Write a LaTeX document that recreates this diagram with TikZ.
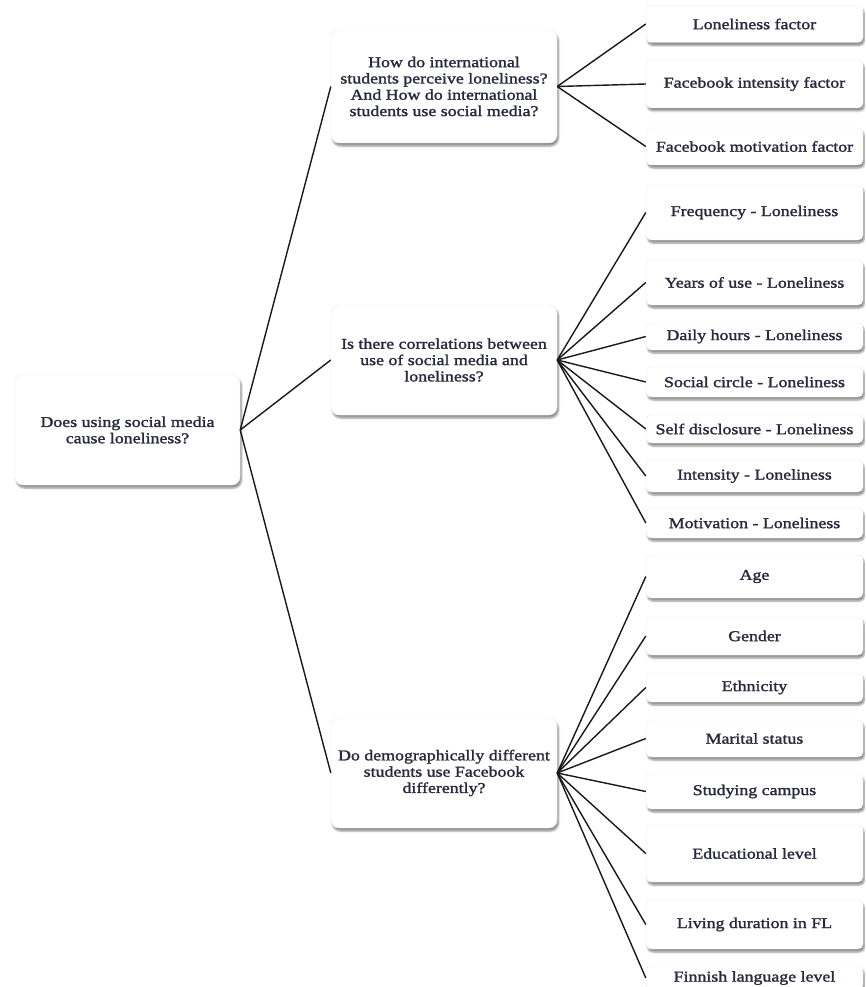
\documentclass[tikz,border=0pt]{standalone}
\usepackage{fontspec}
\setmainfont[FakeStretch=1.19,FakeBold=1.6]{Liberation Serif}
\usetikzlibrary{shadows.blur}
\definecolor{txt}{RGB}{40,40,62}
\begin{document}
\begin{tikzpicture}[x=1pt,y=-1pt,
  base/.style={draw=black!8, fill=white, align=center, text=txt, inner sep=0pt,
    font=\fontsize{15}{16.3}\selectfont,
    blur shadow={shadow xshift=1.5pt, shadow yshift=-3pt, shadow blur steps=5, shadow opacity=45}},
  qbox/.style={base, rounded corners=8pt, minimum width=226pt, minimum height=110pt},
  rbox/.style={base, rounded corners=5pt, minimum width=217pt},
  link/.style={draw=black!90, line width=1.4pt}]
\useasboundingbox (0,0) rectangle (865,987);
\begin{scope}
\clip (0,0) rectangle (865,987);
% root
\node[qbox, minimum width=225pt] (root) at (127.5,430) {Does using social media\\cause loneliness?};
% middle
\node[qbox, minimum height=113pt] (q1) at (444,86.5) {How do international\\students perceive loneliness?\\And How do international\\students use social media?};
\node[qbox] (q2) at (444,360) {Is there correlations between\\use of social media and\\loneliness?};
\node[qbox] (q3) at (444,773) {Do demographically different\\students use Facebook\\differently?};
% right column
\node[rbox, minimum height=37pt] (a1) at (754.5,24) {Loneliness factor};
\node[rbox, minimum height=48pt] (a2) at (754.5,84) {Facebook intensity factor};
\node[rbox, minimum height=37pt] (a3) at (754.5,146.5) {Facebook motivation factor};
\node[rbox, minimum height=55pt] (b1) at (754.5,212.5) {Frequency - Loneliness};
\node[rbox, minimum height=45pt] (b2) at (754.5,282.5) {Years of use - Loneliness};
\node[rbox, minimum height=27pt] (b3) at (754.5,336.5) {Daily hours - Loneliness};
\node[rbox, minimum height=30pt] (b4) at (754.5,382) {Social circle - Loneliness};
\node[rbox, minimum height=28pt] (b5) at (754.5,429) {Self disclosure - Loneliness};
\node[rbox, minimum height=32pt] (b6) at (754.5,476) {Intensity - Loneliness};
\node[rbox, minimum height=30pt] (b7) at (754.5,523) {Motivation - Loneliness};
\node[rbox, minimum height=43pt] (c1) at (754.5,576.5) {Age};
\node[rbox, minimum height=38pt] (c2) at (754.5,636) {Gender};
\node[rbox, minimum height=29pt] (c3) at (754.5,687.5) {Ethnicity};
\node[rbox, minimum height=37pt] (c4) at (754.5,738.5) {Marital status};
\node[rbox, minimum height=35pt] (c5) at (754.5,791.5) {Studying campus};
\node[rbox, minimum height=57pt] (c6) at (754.5,853.5) {Educational level};
\node[rbox, minimum height=49pt] (c7) at (754.5,924.5) {Living duration in FL};
\node[rbox, minimum height=24pt] (c8) at (754.5,978) {Finnish language level};
% connectors
\foreach \q in {q1,q2,q3} \draw[link] (root.east) -- (\q.west);
\foreach \a in {a1,a2,a3} \draw[link] (q1.east) -- (\a.west);
\foreach \b in {b1,b2,b3,b4,b5,b6,b7} \draw[link] (q2.east) -- (\b.west);
\foreach \c in {c1,c2,c3,c4,c5,c6,c7,c8} \draw[link] (q3.east) -- (\c.west);
\end{scope}
\end{tikzpicture}
\end{document}
